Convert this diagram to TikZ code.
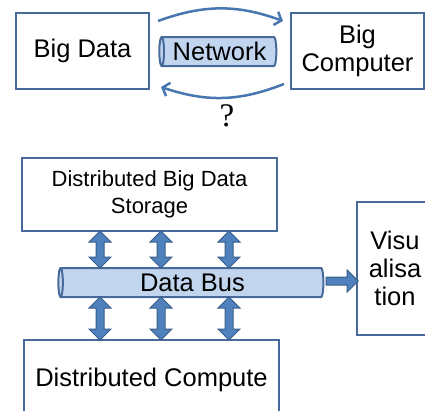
\documentclass[tikz,border=0pt]{standalone}
\usepackage{fontspec}
\setmainfont{Liberation Sans}
\newfontfamily\qfont{Liberation Serif}
\usetikzlibrary{shapes.geometric,shapes.arrows,arrows.meta}

\definecolor{boxline}{RGB}{71,106,155}
\definecolor{curveblue}{RGB}{72,118,176}
\definecolor{busfill}{RGB}{194,213,239}
\definecolor{blockfill}{RGB}{79,129,189}
\definecolor{blockline}{RGB}{56,93,138}

\tikzset{every picture/.style={line width=0.75pt}}
\tikzset{
  bigbox/.style={draw=boxline, line width=2pt, fill=white, inner sep=0pt, align=center,
    font=\fontsize{25.5}{28}\selectfont},
  pipe/.style={cylinder, shape border rotate=180, aspect=0.25, draw=boxline, line width=2pt,
    fill=busfill, inner sep=0pt, font=\fontsize{25.5}{28}\selectfont},
  curvy/.style={draw=curveblue, line width=2.5pt, -{Straight Barb[length=6pt,width=14pt]}},
  dblarrow/.style={double arrow, shape border rotate=90, draw=blockline, line width=1pt,
    fill=blockfill, inner sep=3.5pt, double arrow head extend=7pt},
  blockarrow/.style={single arrow, draw=blockline, line width=1pt, fill=blockfill,
    inner sep=3.5pt, single arrow head extend=7pt}
}

\begin{document}
\begin{tikzpicture}[x=1pt,y=1pt,yscale=-1,xscale=1]
\useasboundingbox (0,0) rectangle (425,410);

%Shape: Rectangle [id:bigdata]
\node[bigbox, minimum width=133, minimum height=76] (bigdata) at (82.5,51) {Big Data};
%Shape: Rectangle [id:bigcomp]
\node[bigbox, minimum width=133, minimum height=76] (bigcomp) at (357.5,51) {Big\\Computer};
%Shape: Can [id:network]
\node[pipe, minimum width=29, minimum height=117] (network) at (219.5,51.5) {Network};
%Curve Lines [id:there]
\draw[curvy] ([xshift=8pt,yshift=9pt]bigdata.north east) to[bend right=20] ([xshift=-7pt,yshift=9pt]bigcomp.north west);
%Curve Lines [id:back]
\draw[curvy] ([xshift=-6pt,yshift=-6pt]bigcomp.south west) to[bend right=20] ([xshift=11pt,yshift=-3pt]bigdata.south east);
% Text Node
\node[font=\qfont\fontsize{33}{36}\selectfont] (ask) at (227,116) {?};

%Shape: Rectangle [id:storage]
\node[bigbox, minimum width=255, minimum height=73, font=\fontsize{22}{27}\selectfont] (storage) at (149.5,194.5) {Distributed Big Data\\Storage};
%Shape: Rectangle [id:compute]
\node[bigbox, minimum width=255, minimum height=80] (compute) at (151.5,380) {Distributed Compute};
%Shape: Rectangle [id:vis]
\node[bigbox, minimum width=76, minimum height=133] (vis) at (395,268.5) {Visu\\alisa\\tion};
%Shape: Can [id:bus]
\node[pipe, minimum width=29, minimum height=265] (bus) at (192.5,282.5) {Data Bus};

%Block Arrows
\foreach \x [count=\i] in {100,161,229} {\coordinate (col\i) at (\x,0);}
\foreach \i in {1,2,3} {
  \path (storage.south -| col\i) -- (bus.north -| col\i) node[midway, dblarrow, minimum height=37] {};
  \path (bus.south -| col\i) -- (compute.north -| col\i) node[midway, dblarrow, minimum height=43] {};
}
\coordinate (visin) at (vis.west |- 0,281);
\path (bus.east |- visin) -- (visin) node[midway, blockarrow, minimum height=32] {};

\end{tikzpicture}
\end{document}
